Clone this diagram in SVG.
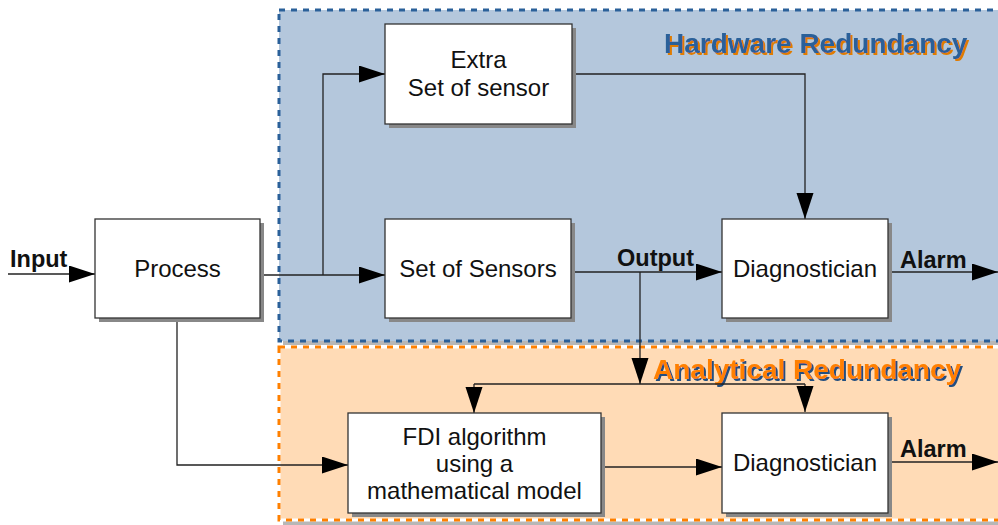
<svg xmlns="http://www.w3.org/2000/svg" width="998" height="525" viewBox="0 0 998 525">
<style>
.box{fill:#ffffff;stroke:#333333;stroke-width:1.3}
.sh{fill:#888888}
.t{font-family:"Liberation Sans",Arial,sans-serif;font-size:24px;fill:#111111;text-anchor:middle}
.b{font-family:"Liberation Sans",Arial,sans-serif;font-size:23.5px;font-weight:bold;fill:#111111}
.ttl{font-family:"Liberation Sans",Arial,sans-serif;font-size:28px;font-weight:bold}
.ln{fill:none;stroke:#222222;stroke-width:1.3}
</style>
<defs>
<marker id="ah" markerUnits="userSpaceOnUse" markerWidth="28" markerHeight="20" refX="26" refY="8.5" orient="auto">
<path d="M0,0 L26,8.5 L0,17 Z" fill="#000000"/>
</marker>
<filter id="shOrange" x="-5%" y="-30%" width="110%" height="160%">
<feFlood flood-color="#e07b00"/>
<feComposite in2="SourceAlpha" operator="in"/>
<feOffset dx="2" dy="2" result="s"/>
<feMerge><feMergeNode in="s"/><feMergeNode in="SourceGraphic"/></feMerge>
</filter>
<filter id="shBlue" x="-5%" y="-30%" width="110%" height="160%">
<feFlood flood-color="#234f80"/>
<feComposite in2="SourceAlpha" operator="in"/>
<feOffset dx="2" dy="2" result="s"/>
<feMerge><feMergeNode in="s"/><feMergeNode in="SourceGraphic"/></feMerge>
</filter>
</defs>
<rect width="998" height="525" fill="#ffffff"/>
<g id="hardware-region">
<rect x="283" y="14" width="730" height="331" fill="#b7b7b7"/>
<rect x="279" y="10" width="730" height="331" fill="#b4c7dc"/>
<rect x="279" y="10" width="730" height="331" fill="none" stroke="#2a6099" stroke-width="3" stroke-dasharray="6 6"/>
<text class="ttl" x="664" y="53" fill="#2a6099" filter="url(#shOrange)">Hardware Redundancy</text>
</g>
<g id="analytical-region">
<rect x="283" y="351" width="730" height="174" fill="#b7b7b7"/>
<rect x="279" y="347" width="730" height="173" fill="#ffdbb6"/>
<rect x="279" y="347" width="730" height="173" fill="none" stroke="#ffffff" stroke-width="3"/>
<rect x="279" y="347" width="730" height="173" fill="none" stroke="#ff8000" stroke-width="3" stroke-dasharray="6 6"/>
<text class="ttl" x="653" y="379" fill="#ff8000" filter="url(#shBlue)">Analytical Redundancy</text>
</g>
<g id="connectors">
<path class="ln" d="M8,274 L95,274" marker-end="url(#ah)"/>
<path class="ln" d="M260,275 L385,275" marker-end="url(#ah)"/>
<path class="ln" d="M323,275 L323,74 L385,74" marker-end="url(#ah)"/>
<path class="ln" d="M572,74 L805,74 L805,219" marker-end="url(#ah)"/>
<path class="ln" d="M571,272 L722,272" marker-end="url(#ah)"/>
<path class="ln" d="M640,272 L640,384" marker-end="url(#ah)"/>
<path class="ln" d="M474,384 L805,384"/>
<path class="ln" d="M474,384 L474,413" marker-end="url(#ah)"/>
<path class="ln" d="M805,384 L805,412" marker-end="url(#ah)"/>
<path class="ln" d="M888,272 L998,272" marker-end="url(#ah)"/>
<path class="ln" d="M177,318 L177,465 L348,465" marker-end="url(#ah)"/>
<path class="ln" d="M598,467 L722,467" marker-end="url(#ah)"/>
<path class="ln" d="M888,462 L998,462" marker-end="url(#ah)"/>
<text class="b" x="10" y="267">Input</text>
<text class="b" x="617" y="266">Output</text>
<text class="b" x="900" y="268">Alarm</text>
<text class="b" x="900" y="457">Alarm</text>
</g>
<g id="process">
<rect class="sh" x="99" y="223" width="165" height="99"/>
<rect class="box" x="95" y="219" width="165" height="99"/>
<text class="t" x="177.5" y="277">Process</text>
</g>
<g id="extra-sensors">
<rect class="sh" x="389" y="28" width="187" height="100"/>
<rect class="box" x="385" y="24" width="187" height="100"/>
<text class="t" x="478.5" y="68">Extra</text>
<text class="t" x="478.5" y="96">Set of sensor</text>
</g>
<g id="set-of-sensors">
<rect class="sh" x="389" y="223" width="186" height="99"/>
<rect class="box" x="385" y="219" width="186" height="99"/>
<text class="t" x="478" y="277">Set of Sensors</text>
</g>
<g id="diagnostician-hw">
<rect class="sh" x="726" y="223" width="166" height="99"/>
<rect class="box" x="722" y="219" width="166" height="99"/>
<text class="t" x="805" y="277">Diagnostician</text>
</g>
<g id="fdi">
<rect class="sh" x="352" y="417" width="253" height="100"/>
<rect class="box" x="348" y="413" width="253" height="100"/>
<text class="t" x="474.5" y="445">FDI algorithm</text>
<text class="t" x="474.5" y="472">using a</text>
<text class="t" x="474.5" y="499">mathematical model</text>
</g>
<g id="diagnostician-ar">
<rect class="sh" x="726" y="417" width="166" height="100"/>
<rect class="box" x="722" y="413" width="166" height="100"/>
<text class="t" x="805" y="471">Diagnostician</text>
</g>
</svg>
